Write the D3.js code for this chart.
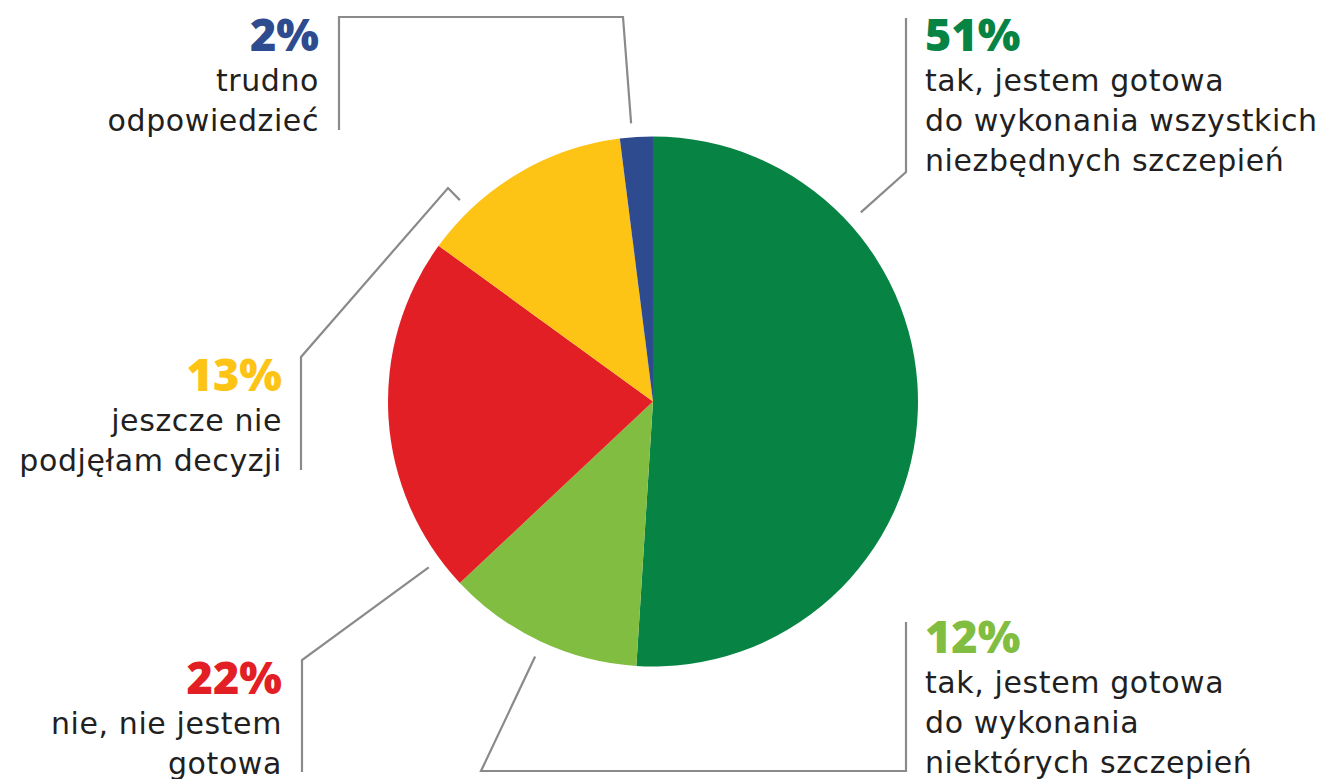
<!DOCTYPE html>
<html>
<head>
<meta charset="utf-8">
<script src="https://cdn.jsdelivr.net/npm/d3@7"></script>
<style>
  html, body { margin: 0; padding: 0; background: #fff; }
  svg { display: block; }
</style>
</head>
<body>
<script>
// chart data
var categories = ["tak, jestem gotowa do wykonania wszystkich niezbędnych szczepień",
                  "tak, jestem gotowa do wykonania niektórych szczepień",
                  "nie, nie jestem gotowa",
                  "jeszcze nie podjęłam decyzji",
                  "trudno odpowiedzieć"];
var values = [51, 12, 22, 13, 2];
var colors = ["#078444", "#80bd41", "#e31f26", "#fdc315", "#2f4b8f"];
// label text broken in lines as in the original
var labelLines = [
  ["tak, jestem gotowa", "do wykonania wszystkich", "niezbędnych szczepień"],
  ["tak, jestem gotowa", "do wykonania", "niektórych szczepień"],
  ["nie, nie jestem", "gotowa"],
  ["jeszcze nie", "podjęłam decyzji"],
  ["trudno", "odpowiedzieć"]
];

var width = 1332, height = 779;
var cx = 653, cy = 401.5, radius = 265;

// label layout: anchor angle on the pie (deg), leader path after anchor, text position
var layout = [
  {angle: 47.7, r: 281, path: [[906, 172], [906, 18]], tx: 925, ty: 51, align: "start"},
  {angle: 204.8, r: 281, path: [[481, 771], [906, 771], [906, 622]], tx: 925, ty: 653, align: "start"},
  {angle: 233.5, r: 279, path: [[302, 660], [302, 772]], tx: 282, ty: 694, align: "end"},
  {angle: 316.2, r: 279, path: [[448, 188], [301, 357], [301, 470]], tx: 282, ty: 391, align: "end"},
  {angle: -4.5, r: 279, path: [[623, 17], [339, 17], [339, 130]], tx: 319, ty: 51, align: "end"}
];

var svg = d3.select("body").append("svg")
    .attr("width", width)
    .attr("height", height);

var pie = d3.pie().sort(null).value(function(d) { return d; });
var arc = d3.arc().innerRadius(0).outerRadius(radius);

var g = svg.append("g")
    .attr("transform", "translate(" + cx + "," + cy + ")");

g.selectAll("path")
    .data(pie(values))
  .enter().append("path")
    .attr("d", arc)
    .attr("fill", function(d, i) { return colors[i]; });

// leader lines
var line = d3.line();
layout.forEach(function(l, i) {
  var a = l.angle * Math.PI / 180;
  var start = [cx + l.r * Math.sin(a), cy - l.r * Math.cos(a)];
  svg.append("path")
    .attr("d", line([start].concat(l.path)))
    .attr("fill", "none")
    .attr("stroke", "#8a8a8d")
    .attr("stroke-width", 2.2);
});

// labels
layout.forEach(function(l, i) {
  svg.append("text")
    .attr("x", l.tx)
    .attr("y", l.ty)
    .attr("text-anchor", l.align)
    .attr("font-family", "'Open Sans', sans-serif")
    .attr("font-weight", 800)
    .attr("font-size", 45)
    .attr("fill", colors[i])
    .text(values[i] + "%");

  var t = svg.append("text")
    .attr("text-anchor", l.align)
    .attr("font-family", "'DejaVu Sans', sans-serif")
    .attr("font-size", 30)
    .attr("letter-spacing", 0.6)
    .attr("fill", "#231f20");
  labelLines[i].forEach(function(s, j) {
    t.append("tspan")
      .attr("x", l.tx)
      .attr("y", l.ty + 40 * (j + 1))
      .text(s);
  });
});
</script>
</body>
</html>
